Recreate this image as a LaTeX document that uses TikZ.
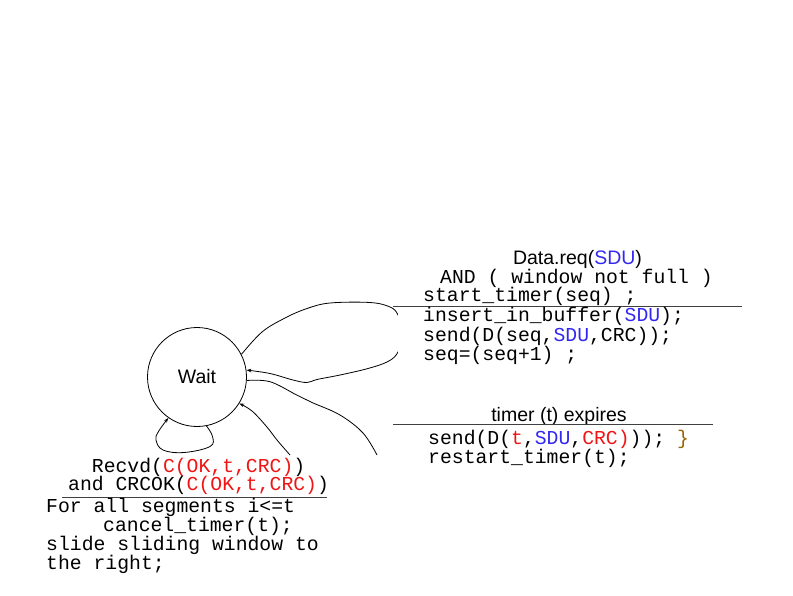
\documentclass[tikz,border=0pt]{standalone}
\usepackage{fontspec}
\setmainfont{Liberation Sans}
\newfontfamily\monof{Liberation Mono}
\usetikzlibrary{arrows.meta}
\definecolor{sdublue}{RGB}{50,40,240}
\definecolor{crcred}{RGB}{240,20,20}
\definecolor{bracebrown}{RGB}{150,100,0}
\begin{document}
\begin{tikzpicture}[x=1pt,y=-1pt,
  mono/.style={font=\monof\fontsize{19.75}{19.75}\selectfont, inner sep=0pt, anchor=base west},
  sans/.style={font=\fontsize{19.5}{19.5}\selectfont, inner sep=0pt, anchor=base},
  conn/.style={line width=0.8pt},
  arr/.style={conn,-{Stealth[length=5pt,width=3.5pt]}},
  rule/.style={line width=1pt, draw=black!75},
  state/.style={draw, circle, minimum size=99pt, inner sep=0pt, line width=0.8pt, font=\fontsize{19.5}{19.5}\selectfont}]
\useasboundingbox (0,0) rectangle (793,595);

% state
\node[state] (wait) at (197,377) {Wait};

% data loop (partly hidden behind the label area, as in the reference)
\draw[arr] plot[smooth, tension=0.6] coordinates {(wait.27) (262,332) (285,318) (307,308.5) (330,303) (370,302.5) (390,307) (398,315) (403,333) (398,352) (388,361.5) (368,368.5) (340,375) (317,379.5) (307,382.5) (293,380) (270,373.5) (wait.8)};
\fill[white] (397.5,313.5) rectangle (421,352.5);

% Data.req transition label
\node[sans] (dreq) at (577.5,264.5) {Data.req(\textcolor{sdublue}{SDU})};
\node[mono] (andl) at (440,283) {AND ( window not full )};
\node[mono] (st) at (423,301.7) {start\_timer(seq) ;};
\draw[rule] (393,306.7) -- (742,306.7);
\node[mono] (ins) at (423,321.5) {insert\_in\_buffer(\textcolor{sdublue}{SDU});};
\node[mono] (snd) at (423,341) {send(D(seq,\textcolor{sdublue}{SDU},CRC));};
\node[mono] (sq) at (423,360.5) {seq=(seq+1) ;};

% timer label
\node[sans] (tmr) at (559,421.7) {timer (t) expires};
\draw[rule] (393,424) -- (713,424);
\node[mono] (snd2) at (428,444.5) {send(D(\textcolor{crcred}{t},\textcolor{sdublue}{SDU},\textcolor{crcred}{CRC)})); \textcolor{bracebrown}{\}}};
\node[mono] (rst) at (428,463.5) {restart\_timer(t);};

% ack label
\node[mono] (rcv) at (91.7,472.5) {Recvd(\textcolor{crcred}{C(OK,t,CRC)})};
\node[mono] (crcok) at (68,490.5) {and CRCOK(\textcolor{crcred}{C(OK,t,CRC)})};
\draw[rule] (62,497.7) -- (327,497.7);
\node[mono] (fa) at (46,512.3) {For all segments i<=t};
\node[mono] (ct) at (103,531) {cancel\_timer(t);};
\node[mono] (sl) at (46,550) {slide sliding window to};
\node[mono] (tr) at (46,569) {the right;};

% timer line
\coordinate (tend) at (377,455);
\draw[conn] plot[smooth, tension=0.6] coordinates {(wait.-4) (270,381.7) (296.7,395) (312,402.5) (340,415) (363,433) (tend)};

% ack incoming
\coordinate (astart) at (290,455);
\draw[arr] plot[smooth, tension=0.6] coordinates {(astart) (277,440) (266.7,426.7) (252,411) (wait.-32)};

% self loop
\draw[arr] plot[smooth, tension=0.65] coordinates {(wait.-79) (212.5,436.5) (210,446.5) (184,452.5) (163,450) (156,440) (158.5,431.5) (wait.-125)};
\end{tikzpicture}
\end{document}
